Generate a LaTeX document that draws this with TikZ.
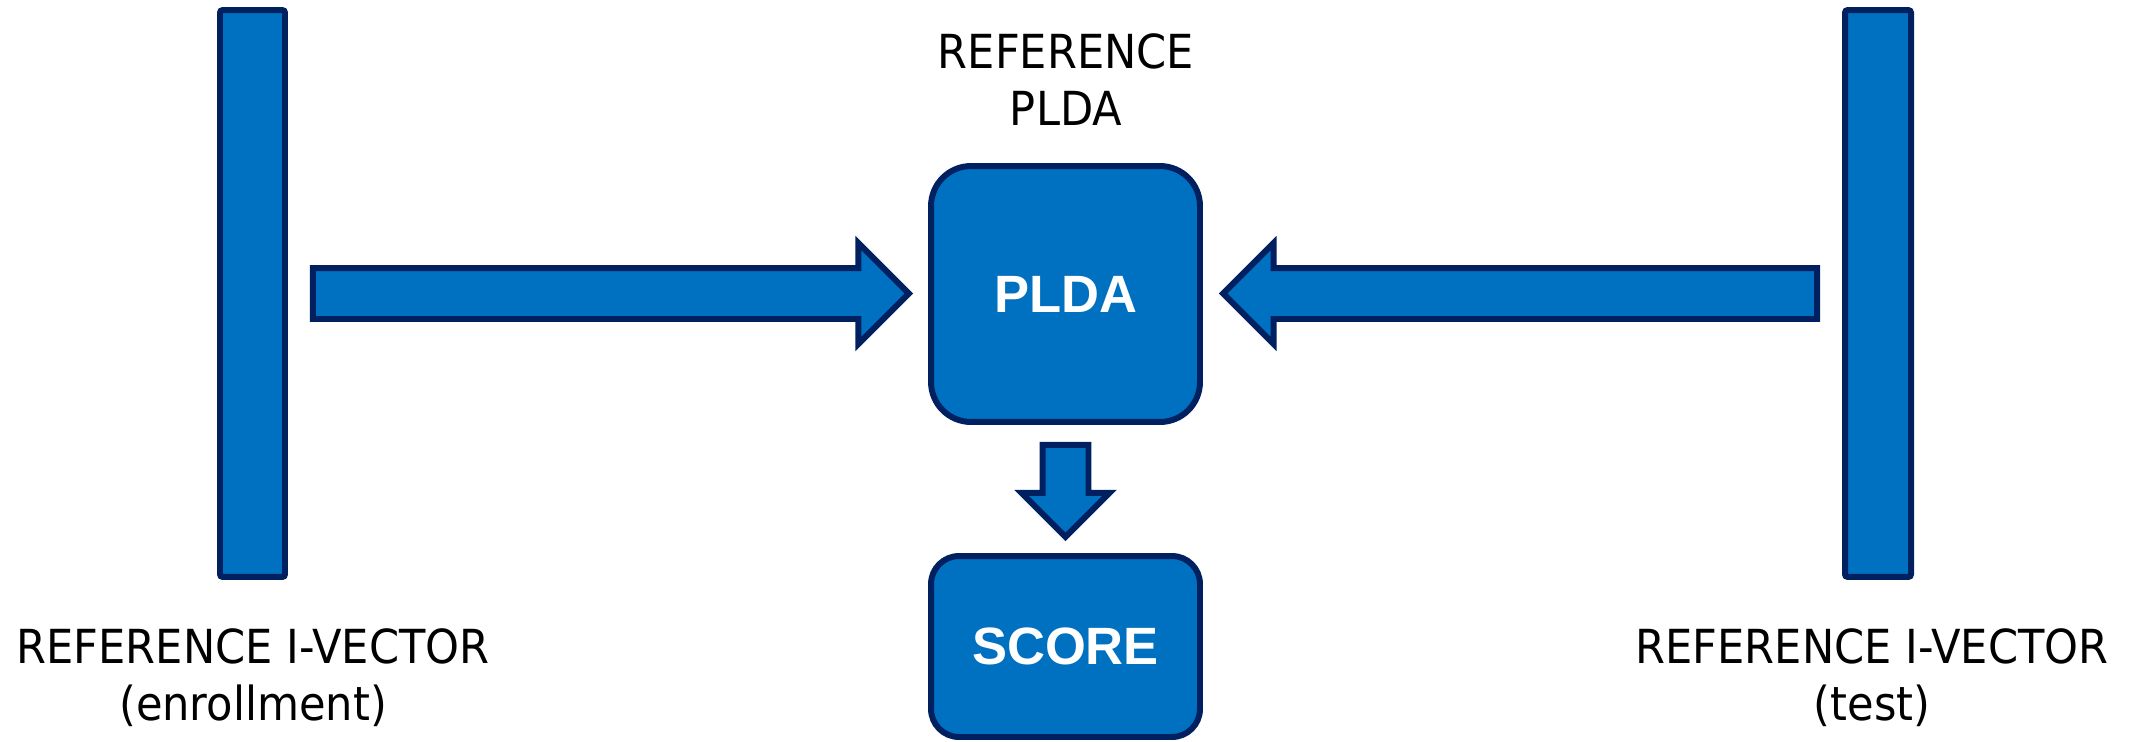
\documentclass[tikz,border=0pt]{standalone}
\usepackage{fontspec}
\setmainfont{DejaVu Sans}[FakeStretch=0.92]
\newfontfamily\boxfont{Liberation Sans}
\usetikzlibrary{shapes.arrows,calc}

\definecolor{boxblue}{HTML}{0070C0}
\definecolor{edgeblue}{HTML}{002060}

\tikzset{
  vecbar/.style={draw=edgeblue, fill=boxblue, line width=3.4pt, rounded corners=1.5pt, inner sep=0pt},
  bluebox/.style={draw=edgeblue, fill=boxblue, line width=3.4pt, inner sep=0pt, minimum width=5.38cm,
    text=white, font=\boxfont\bfseries\fontsize{29.9}{36}\selectfont},
  blockarrow/.style={single arrow, draw=edgeblue, fill=boxblue, line width=3.4pt,
    inner xsep=0pt, inner ysep=0.45cm, single arrow head extend=0.5cm,
    single arrow tip angle=90, single arrow head indent=0pt},
  reflabel/.style={align=center, inner sep=0pt, font=\fontsize{26.7}{32.4}\selectfont}
}

\begin{document}
\begin{tikzpicture}[x=0.02cm, y=-0.02cm]
  \useasboundingbox (0,0) rectangle (2136,741);

  % i-vector bars
  \node[vecbar, minimum width=1.3cm, minimum height=11.34cm] (enroll) at (252.5,293.5) {};
  \node[vecbar, minimum width=1.32cm, minimum height=11.34cm] (test) at (1878,293.5) {};
  \node[reflabel, anchor=base] (enrolltxt) at (253,720) {REFERENCE I-VECTOR\\(enrollment)};
  \node[reflabel, anchor=base] (testtxt) at (1872,720) {REFERENCE I-VECTOR\\(test)};

  % plda and score
  \node[bluebox, rounded corners=0.8cm, minimum height=5.12cm] (plda) at (1065.5,294) {PLDA};
  \node[bluebox, rounded corners=0.56cm, minimum height=3.62cm] (score) at (1065.5,646.5) {SCORE};
  \node[reflabel, anchor=base] (pldatxt) at (1066,125) {REFERENCE\\PLDA};

  % block arrows
  \node[blockarrow, anchor=tail, minimum height=11.92cm] (enrollarrow) at ($(enroll.east)+(22,0)$) {};
  \node[blockarrow, anchor=tail, shape border rotate=180, minimum height=11.88cm] (testarrow) at ($(test.west)+(-22,0)$) {};
  \node[blockarrow, anchor=tail, shape border rotate=270, inner xsep=0.4cm, inner ysep=0pt,
    single arrow head extend=0.42cm, minimum height=1.84cm] (scorearrow) at ($(plda.south)+(0,17)$) {};
\end{tikzpicture}
\end{document}
